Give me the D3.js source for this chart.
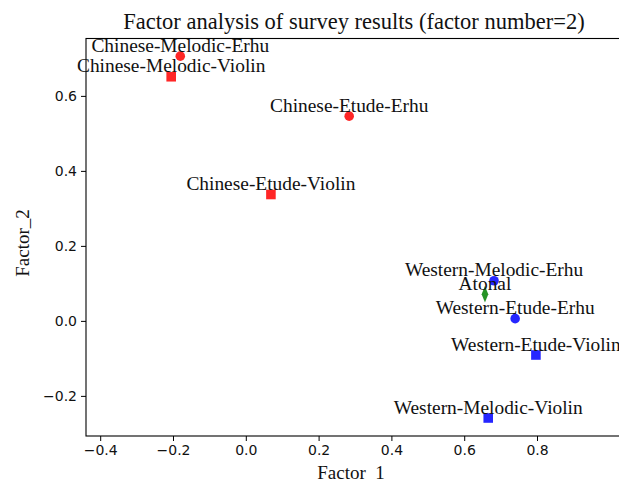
<!DOCTYPE html>
<html>
<head>
<meta charset="utf-8">
<script src="https://cdn.jsdelivr.net/npm/d3@7"></script>
<style>
  html, body { margin: 0; padding: 0; background: #fff; overflow: hidden; }
  svg { display: block; }
</style>
</head>
<body>
<svg id="chart" width="619" height="483"></svg>
<script>
// Factor loadings for each stimulus group
const labels = [
  "Chinese-Melodic-Erhu", "Chinese-Melodic-Violin", "Chinese-Etude-Erhu",
  "Chinese-Etude-Violin", "Western-Melodic-Erhu", "Atonal",
  "Western-Etude-Erhu", "Western-Etude-Violin", "Western-Melodic-Violin"
];
const factor1 = [-0.180, -0.205, 0.284, 0.069, 0.682, 0.657, 0.740, 0.797, 0.666];
const factor2 = [0.706, 0.651, 0.546, 0.337, 0.107, 0.071, 0.006, -0.091, -0.259];
const origin = ["Chinese", "Chinese", "Chinese", "Chinese", "Western", "Atonal", "Western", "Western", "Western"];
const instrument = ["Erhu", "Violin", "Erhu", "Violin", "Erhu", "Atonal", "Erhu", "Violin", "Violin"];

const xTicks = [-0.4, -0.2, 0.0, 0.2, 0.4, 0.6, 0.8];
const yTicks = [-0.2, 0.0, 0.2, 0.4, 0.6];
const xDomain = [-0.439, 1.028];
const yDomain = [-0.307, 0.753];

const margin = { left: 86, top: 38.5, right: -1, bottom: 47 };
const W = 619, H = 483;
const svg = d3.select("#chart");
const plotW = W - margin.left - margin.right;
const plotH = H - margin.top - margin.bottom;

const x = d3.scaleLinear().domain(xDomain).range([margin.left, margin.left + plotW]);
const y = d3.scaleLinear().domain(yDomain).range([margin.top + plotH, margin.top]);

const colorOf = d3.scaleOrdinal().domain(["Chinese", "Western", "Atonal"])
  .range(["#ff0000", "#0000ff", "#008000"]);
const symbolOf = d3.scaleOrdinal().domain(["Erhu", "Violin", "Atonal"])
  .range([d3.symbolCircle, d3.symbolSquare, d3.symbolDiamond]);
const sizeOf = d3.scaleOrdinal().domain(["Erhu", "Violin", "Atonal"]).range([72, 92, 60]);

const tickFont = "'DejaVu Sans', sans-serif";
const serif = "'Liberation Serif', 'Times New Roman', serif";

// Axes
const xAxis = d3.axisBottom(x).tickValues(xTicks).tickSize(5).tickPadding(4)
  .tickFormat(d => d3.format(".1f")(d).replace("-", "\u2212"));
const yAxis = d3.axisLeft(y).tickValues(yTicks).tickSize(5).tickPadding(4)
  .tickFormat(d => d3.format(".1f")(d).replace("-", "\u2212"));

const gx = svg.append("g").attr("transform", `translate(0,${margin.top + plotH})`).call(xAxis);
const gy = svg.append("g").attr("transform", `translate(${margin.left},0)`).call(yAxis);
[gx, gy].forEach(g => {
  g.select(".domain").remove();
  g.selectAll(".tick line").attr("stroke", "#000").attr("stroke-width", 1);
  g.selectAll(".tick text").attr("font-family", tickFont).attr("font-size", 14).attr("fill", "#111");
});

// Frame
svg.append("rect")
  .attr("x", margin.left).attr("y", margin.top)
  .attr("width", plotW).attr("height", plotH)
  .attr("fill", "none").attr("stroke", "#000").attr("stroke-width", 1.1);

// Markers
const pts = labels.map((l, i) => ({ label: l, f1: factor1[i], f2: factor2[i], o: origin[i], ins: instrument[i] }));

svg.append("g").selectAll("path").data(pts).join("path")
  .attr("transform", d => d.ins === "Atonal"
    ? `translate(${x(d.f1)},${y(d.f2)}) scale(0.8,1.15)`
    : `translate(${x(d.f1)},${y(d.f2)})`)
  .attr("d", d => d3.symbol().type(symbolOf(d.ins)).size(sizeOf(d.ins))())
  .attr("fill", d => colorOf(d.o))
  .attr("fill-opacity", 0.85);

// Point labels
svg.append("g").selectAll("text").data(pts).join("text")
  .attr("x", d => x(d.f1))
  .attr("y", d => y(d.f2) - 4.5)
  .attr("text-anchor", "middle")
  .attr("font-family", serif).attr("font-size", 19.4).attr("fill", "#111")
  .text(d => d.label);

// Title and axis titles
svg.append("text").attr("x", 354).attr("y", 29).attr("text-anchor", "middle")
  .attr("font-family", serif).attr("font-size", 22.5).attr("fill", "#111")
  .text("Factor analysis of survey results (factor number=2)");

svg.append("text").attr("x", 351).attr("y", 479).attr("text-anchor", "middle")
  .attr("font-family", serif).attr("font-size", 19).attr("fill", "#111")
  .attr("xml:space", "preserve").style("white-space", "pre")
  .text("Factor\u00a0\u00a01");

svg.append("text").attr("transform", "translate(29,243) rotate(-90)").attr("text-anchor", "middle")
  .attr("font-family", serif).attr("font-size", 19).attr("fill", "#111")
  .text("Factor_2");
</script>
</body>
</html>
